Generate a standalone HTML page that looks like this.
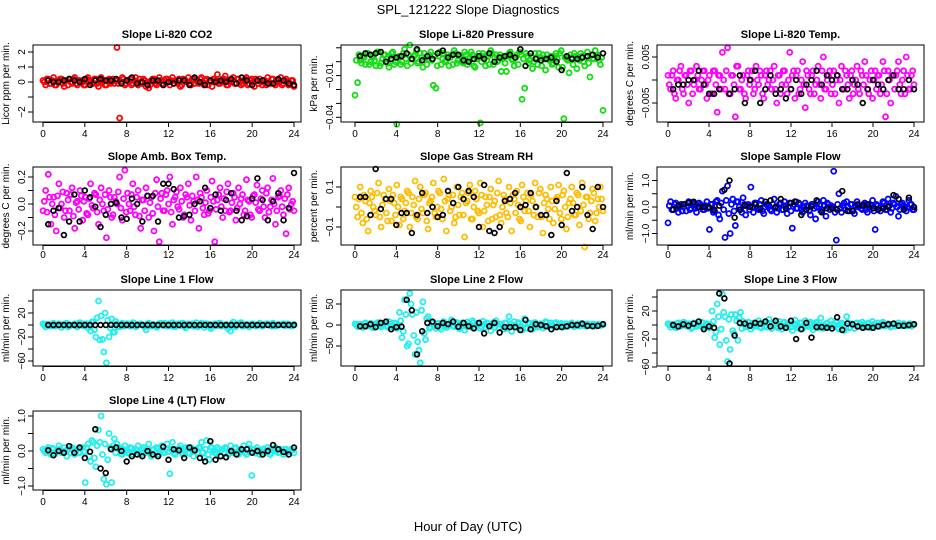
<!DOCTYPE html>
<html><head><meta charset="utf-8"><style>
html,body{margin:0;padding:0;background:#fff;}
svg{display:block;font-family:"Liberation Sans",Arial,sans-serif;}
</style></head><body>
<svg id="chart" width="936" height="540" viewBox="0 0 936 540">
<text x="468" y="14" text-anchor="middle" font-size="13">SPL_121222  Slope Diagnostics</text>
<text x="468" y="531" text-anchor="middle" font-size="13">Hour of Day (UTC)</text>
</svg>
<script>
const xTicks=[0,4,8,12,16,20,24];
const xTickLabels=['0','4','8','12','16','20','24'];

const co2Color=[0.1,-0.2,0.2,-0.1,0.3,-0.2,0.1,0.2,-0.3,0.1,0.2,-0.1,0.3,-0.2,0.1,0.0,-0.2,0.3,0.1,-0.1,0.2,-0.3,0.3,0.1,-0.2,0.2,0.0,-0.1,2.3,-2.4,0.3,-0.2,0.1,0.2,-0.1,0.3,-0.2,0.0,0.2,-0.3,-0.4,0.1,0.2,-0.2,0.3,-0.1,0.1,0.2,-0.2,0.3,0.1,-0.1,-0.3,0.2,0.1,0.3,-0.2,0.2,0.1,-0.1,0.3,-0.2,0.2,0.1,-0.3,0.2,0.5,-0.1,0.2,0.4,-0.2,0.1,0.3,-0.1,0.2,-0.2,0.1,0.3,-0.1,0.2,-0.3,0.1,0.2,-0.2,0.1,0.3,-0.1,0.2,-0.2,0.1,0.3,-0.1,0.2,-0.2,0.1,-0.3];
const co2Color2=[0.0,0.2,-0.1,0.1,-0.2,0.0,0.2,-0.1,0.1,-0.2,0.0,0.2,-0.1,0.1,0.0,-0.2,0.2,0.0,-0.1,0.2,-0.1,0.1,0.0,-0.2,0.1,-0.1,0.2,0.1,-0.1,0.0,0.2,-0.1,0.0,-0.2,0.1,0.0,0.2,-0.1,0.1,0.0,-0.2,0.2,-0.1,0.0,0.1,-0.2,0.2,0.0,0.1,-0.1,0.0,0.2,-0.2,0.1,0.0,-0.1,0.2,-0.1,0.0,0.2,-0.1,0.1,-0.2,0.0,0.2,0.1,-0.1,0.0,0.2,-0.2,0.1,0.0,-0.1,0.2,0.0,-0.1,0.2,-0.2,0.1,0.0,0.2,-0.1,0.0,0.1,-0.2,0.0,0.2,-0.1,0.1,0.0,-0.2,0.1,0.0,-0.1,0.1,-0.2];
const co2Black=[0.1,0,0,0.1,0.2,0.1,0,0.2,-0.2,0.1,0.2,0.1,0.1,0.2,-0.1,0.1,0.3,-0.1,0,-0.2,0.1,0.1,-0.2,0,-0.1,0.1,0.1,-0.2,0.3,0,-0.2,0.1,0,0.1,0,0.2,-0.1,0.3,0.1,-0.2,0.1,0.1,-0.1,-0.1,0.2,0.1,-0.1,-0.2];

const presColor=[-0.024,-0.015,0.001,0.004,-0.002,0.006,0.0,0.003,-0.003,0.007,-0.001,0.005,0.002,-0.004,0.006,-0.002,-0.045,0.004,0.0,0.009,-0.003,0.012,0.002,0.005,-0.001,0.006,-0.004,0.003,0.002,0.007,-0.017,-0.019,0.004,-0.002,0.006,0.001,-0.003,0.005,0.008,-0.001,0.004,0.0,0.007,-0.002,0.003,0.005,-0.004,0.002,-0.044,0.006,-0.003,0.004,0.008,-0.002,0.005,0.001,-0.007,0.003,-0.007,0.006,0.002,-0.003,0.005,0.007,-0.027,-0.019,0.004,0.001,-0.005,0.006,-0.002,0.003,0.005,-0.006,0.002,0.004,-0.001,0.006,-0.004,0.008,-0.041,0.002,-0.008,0.003,0.006,-0.005,0.001,0.004,-0.003,0.007,-0.011,0.002,0.008,0.005,-0.002,-0.035];
const presColor2=[0.001,0.005,-0.001,0.003,0.006,-0.002,0.004,0.001,0.007,-0.003,0.002,0.005,-0.001,0.004,0.007,0.0,0.003,-0.002,0.006,0.002,0.005,-0.001,0.004,0.008,0.0,0.003,0.006,-0.002,0.005,0.001,0.004,-0.003,0.007,0.002,0.0,0.005,0.003,-0.002,0.006,0.001,0.004,-0.001,0.005,0.002,0.007,-0.003,0.003,0.006,0.0,0.004,0.001,-0.002,0.006,0.003,0.0,0.005,0.002,-0.001,0.004,0.007,0.001,0.003,-0.002,0.005,0.002,0.006,-0.001,0.004,0.0,0.003,0.006,-0.003,0.002,0.005,0.001,-0.002,0.004,0.002,0.006,-0.004,0.003,0.001,0.005,-0.002,0.004,0.002,0.006,0.0,0.003,-0.001,0.005,0.002,0.004,0.001,0.003,0.002];
const presBlack=[0.004,0.006,0.005,0.006,0.007,0.0,0.002,0.003,0.004,0.006,0.002,0.009,0.001,0.004,0.002,0.006,0.008,0.003,0.005,0.005,0.001,0.0,0.002,0.004,0.002,0.006,0.0,0.003,0.004,0.005,0.003,0.009,-0.003,0.006,0.002,0.001,0.002,0.003,0.0,-0.006,0.004,0.002,0.002,0.003,0.004,0.005,0.003,0.006];

const tempColor=[0.001,-0.002,0.002,-0.004,0.0,0.003,-0.003,0.001,-0.005,0.002,-0.001,0.003,-0.002,0.0,0.002,-0.004,0.001,-0.003,0.002,-0.007,0.001,0.006,-0.002,0.007,-0.003,0.001,-0.008,0.003,-0.002,0.001,-0.004,0.002,0.0,-0.003,0.003,-0.001,0.001,-0.004,0.002,0.0,-0.002,0.003,-0.005,0.001,-0.001,0.002,-0.003,0.006,0.001,-0.004,0.002,-0.002,0.004,-0.006,0.001,-0.003,0.002,-0.001,0.003,-0.004,0.005,-0.002,0.001,-0.003,0.002,0.0,-0.005,0.003,-0.002,0.001,-0.004,0.002,-0.001,0.003,-0.003,0.001,0.004,-0.002,0.0,-0.004,0.002,0.001,-0.003,0.004,-0.008,0.002,-0.005,-0.011,0.001,0.004,-0.003,0.002,0.005,-0.002,0.001,-0.001];
const tempColor2=[-0.001,0.001,-0.003,0.0,0.002,-0.002,0.001,-0.001,0.002,-0.003,0.0,0.001,-0.002,0.002,-0.001,0.0,-0.003,0.002,-0.001,0.001,-0.002,0.0,0.002,-0.003,0.001,-0.001,0.003,-0.002,0.0,-0.003,0.001,-0.001,0.002,-0.002,0.0,0.002,-0.003,0.001,-0.001,0.002,0.0,-0.002,0.001,-0.003,0.002,-0.001,0.0,-0.002,0.002,0.001,-0.003,0.0,-0.001,0.002,-0.002,0.001,-0.003,0.0,-0.001,0.002,-0.002,0.0,0.002,-0.001,-0.003,0.001,0.0,-0.002,0.002,-0.001,0.001,-0.003,0.0,-0.002,0.002,-0.001,0.001,-0.003,0.002,0.0,-0.002,0.001,-0.001,0.002,-0.003,0.0,0.001,-0.002,0.002,-0.001,0.0,-0.003,0.001,-0.002,0.002,0.0];
const tempBlack=[-0.002,-0.001,-0.001,0.0,0.0,0.002,-0.001,-0.003,-0.003,-0.002,-0.011,-0.003,-0.002,0.001,-0.005,0.0,0.002,-0.005,-0.002,0.001,-0.003,-0.002,-0.004,-0.002,0.0,-0.003,-0.001,0.0,0.002,-0.001,0.001,0.0,0.001,-0.002,-0.002,0.0,-0.001,-0.005,-0.002,0.0,-0.001,-0.002,0.0,0.001,-0.002,-0.002,0.0,-0.002];

const ambColor=[-0.05,0.1,0.22,-0.15,0.05,-0.2,0.15,0.0,-0.1,0.08,-0.05,0.12,-0.18,0.02,0.1,-0.12,0.05,-0.08,0.15,-0.03,0.07,-0.15,0.12,-0.05,-0.25,0.1,-0.1,0.05,0.0,0.2,-0.12,0.25,0.08,-0.05,0.15,-0.08,0.1,-0.18,0.03,0.12,-0.1,0.05,-0.2,0.18,-0.28,0.08,-0.05,0.1,0.2,-0.15,0.05,-0.02,0.12,-0.1,0.07,0.15,-0.12,0.02,0.2,-0.18,0.05,-0.08,0.1,-0.05,0.17,-0.28,0.03,0.12,-0.1,-0.05,0.15,-0.05,0.08,-0.12,0.12,0.04,-0.08,0.18,0.02,-0.1,0.07,0.14,-0.05,0.1,-0.1,0.12,-0.02,0.19,-0.15,0.05,0.1,-0.08,-0.22,0.12,0.0,-0.05];
const ambColor2=[0.02,-0.06,0.05,0.0,-0.08,0.06,-0.03,0.09,-0.05,0.03,0.07,-0.09,0.01,-0.04,0.06,0.02,-0.07,0.04,-0.01,0.08,-0.06,0.03,0.0,0.07,-0.04,0.05,-0.08,0.02,0.09,-0.03,0.04,-0.06,0.0,0.07,-0.02,0.05,-0.09,0.03,-0.05,0.06,0.01,-0.07,0.08,-0.02,0.04,-0.05,0.07,0.0,-0.06,0.03,0.09,-0.04,0.02,-0.08,0.05,-0.01,0.06,-0.05,0.03,0.08,-0.03,0.01,-0.07,0.05,0.02,-0.04,0.07,-0.02,0.04,0.09,-0.06,0.01,0.05,-0.03,0.0,0.07,-0.05,0.03,-0.08,0.06,0.01,-0.04,0.04,-0.02,0.08,-0.06,0.03,0.0,-0.05,0.06,-0.02,0.04,0.07,-0.04,0.02,-0.03];
const ambBlack=[-0.15,-0.05,-0.03,-0.23,-0.13,0.07,-0.13,0.1,0.05,-0.02,-0.17,-0.08,0.0,0.01,-0.1,-0.11,0.04,0.0,-0.13,0.06,0.06,-0.13,0.15,0.15,0.11,-0.1,-0.09,-0.08,0.0,0.02,0.12,-0.03,0.07,-0.05,0.03,0.08,-0.05,-0.12,-0.09,0.04,0.19,0.03,-0.12,0.02,0.08,-0.12,-0.03,0.23];

const rhColor=[0.05,-0.05,0.1,-0.08,0.03,-0.12,0.08,0.0,-0.04,0.12,-0.1,0.06,-0.03,0.09,-0.07,0.02,0.11,-0.09,0.04,-0.02,0.08,-0.1,0.05,0.13,-0.06,0.1,-0.03,0.07,-0.11,0.03,0.12,-0.05,0.08,-0.01,0.14,-0.12,0.06,0.0,-0.08,0.1,-0.04,0.07,-0.15,0.03,0.11,-0.06,0.08,-0.02,0.12,-0.1,0.05,-0.07,0.09,0.01,-0.05,0.13,-0.08,0.06,-0.03,0.1,-0.12,0.04,0.08,-0.06,0.11,-0.02,0.07,-0.1,0.03,0.12,-0.05,0.09,-0.13,0.06,-0.01,0.1,-0.08,0.04,0.11,-0.06,0.08,-0.11,0.02,0.1,-0.04,0.07,-0.09,0.12,-0.2,0.05,-0.03,0.09,-0.07,0.04,0.1,-0.02];
const rhColor2=[0.0,0.04,-0.03,0.06,-0.06,0.02,0.05,-0.02,0.07,-0.05,0.01,0.04,-0.07,0.03,0.06,-0.04,0.0,0.05,-0.06,0.02,0.07,-0.03,0.01,-0.05,0.04,-0.01,0.06,-0.07,0.02,0.05,-0.03,0.0,0.07,-0.06,0.03,0.04,-0.02,0.06,-0.05,0.01,0.05,-0.04,0.02,0.07,-0.06,0.0,0.04,-0.03,0.06,-0.02,0.01,0.05,-0.06,0.03,0.07,-0.04,0.0,0.04,-0.05,0.02,0.06,-0.03,0.01,-0.07,0.05,0.03,-0.02,0.06,-0.04,0.0,0.07,-0.05,0.02,0.04,-0.06,0.03,-0.01,0.05,-0.03,0.06,0.0,-0.05,0.04,0.02,-0.04,0.06,-0.02,0.01,0.05,-0.06,0.03,0.07,-0.03,0.0,0.04,-0.04];
const rhBlack=[0.05,0.05,-0.04,0.19,-0.01,0.04,0.04,-0.09,-0.03,-0.03,-0.13,-0.04,0.07,-0.03,0.0,-0.05,-0.04,0.08,0.02,0.1,0.04,0.08,0.05,-0.1,0.11,-0.12,-0.13,-0.1,0.03,0.04,0.07,0.0,0.01,0.07,0.0,-0.04,-0.04,-0.14,0.03,-0.09,0.17,-0.02,0.0,0.1,-0.04,-0.11,0.1,0.0];

const sampColor=[-0.6,0.2,-0.1,0.15,-0.2,0.1,0.0,-0.15,0.2,-0.05,0.1,-0.2,0.15,0.05,-0.1,0.2,-0.85,0.1,-0.15,0.25,-0.45,0.6,-1.15,0.8,-1.0,0.3,-0.7,0.2,-0.1,0.35,-0.3,0.1,0.75,-0.2,0.15,-0.1,0.25,-0.25,0.1,0.05,-0.15,0.3,-0.2,0.1,-0.1,0.2,-0.25,0.15,-0.8,0.2,-0.05,0.1,-0.2,0.15,0.0,-0.3,0.1,-0.45,0.2,-0.15,0.25,-0.35,0.1,0.05,1.35,-1.25,0.5,-0.2,0.15,0.2,-0.15,0.1,-0.25,0.2,0.05,-0.1,0.15,-0.2,0.1,0.25,-0.85,0.05,-0.15,0.2,-0.1,0.3,-0.2,0.15,0.4,-0.35,0.1,0.05,-0.15,0.25,0.1,-0.1];
const sampColor2=[0.05,-0.1,0.1,-0.05,0.0,-0.15,0.1,0.05,-0.1,0.15,-0.05,0.0,0.1,-0.1,0.05,-0.05,0.1,-0.2,0.2,-0.3,0.15,-0.1,0.25,-0.25,0.1,-0.15,0.2,0.0,-0.2,0.1,0.05,-0.1,0.0,0.15,-0.05,0.1,-0.15,0.0,0.05,-0.1,0.1,0.0,-0.05,0.15,-0.1,0.05,0.0,-0.15,0.1,-0.05,0.15,-0.1,0.0,0.05,-0.15,0.1,-0.05,0.0,0.1,-0.1,0.05,0.15,-0.1,0.0,-0.2,0.1,-0.05,0.05,-0.1,0.0,0.1,-0.15,0.05,0.0,-0.05,0.1,-0.1,0.0,0.05,-0.15,0.1,-0.05,0.0,0.15,-0.1,0.05,-0.05,0.1,0.0,-0.1,0.15,-0.05,0.0,0.1,-0.1,0.05];
const sampBlack=[-0.1,0.05,0.1,0.15,0.2,0.0,0.0,0.0,-0.1,0.05,0.65,1.0,-0.4,-0.1,0.05,0.0,0.1,-0.05,0.2,0.25,0.0,0.3,-0.05,0.15,0.2,-0.3,-0.1,0.03,0.25,-0.2,-0.05,-0.05,-0.1,0.6,-0.15,-0.15,0.1,0.05,0.1,-0.05,-0.1,-0.05,0.0,0.45,0.3,-0.1,0.35,0.0];

const l1Color=[2,-3,1,-2,3,-1,2,-4,1,3,-2,0,2,-3,4,-1,2,-5,-10,5,-20,40,15,-45,-63,-20,10,-12,2,-3,3,-1,2,-2,4,-3,1,2,-1,-8,3,-2,1,-4,2,0,3,-2,1,4,-3,2,-1,3,-5,2,1,-2,4,-1,3,-4,2,1,-3,2,-1,3,0,-2,-6,-10,5,-3,2,4,-2,1,-3,2,0,-1,3,-2,1,2,-1,3,-2,1,0,2,-1,1,-2,1];
const l1Color2=[0,1,-1,2,-2,0,1,-1,2,-3,0,1,-2,3,0,-1,2,-2,5,-8,12,-25,-24,20,8,-5,-12,6,-3,1,-2,2,0,-1,3,-2,1,0,-3,2,-1,1,0,-2,3,-1,0,2,-2,1,-1,0,3,-2,1,-1,2,0,-3,1,0,2,-2,-6,1,-1,3,-2,0,1,-2,2,-1,0,3,-2,1,0,-1,2,-2,1,0,-1,2,0,-2,1,-1,0,1,-1,2,0,-1,0];
const l1Black=[0,0,0,0,0,0,0,0,0,0,0,0,0,0,0,0,0,0,0,0,0,0,0,0,0,0,0,0,0,0,0,0,0,0,0,0,0,0,0,0,0,0,0,0,0,0,0,0];

const l2Color=[3,-4,2,-6,5,-3,4,-7,2,6,-5,3,-2,8,-4,5,-8,30,-30,60,-50,75,25,-70,-40,-90,55,-35,20,-5,6,-8,4,-10,8,-6,3,12,-4,6,-9,5,-12,7,-3,10,-6,4,-8,9,-5,3,-14,6,10,-7,2,-10,5,20,-15,8,-6,3,-12,15,-8,4,-10,6,-5,3,-7,8,-4,5,-3,6,-2,4,-5,3,-1,5,-4,2,-3,4,-2,3,-1,2,-3,2,-1,1];
const l2Color2=[0,2,-2,3,-3,1,-4,2,5,-2,0,3,-5,2,-1,4,-3,10,-15,25,-45,50,-25,30,-60,35,-20,15,-8,4,-2,3,-5,2,0,-4,5,-2,3,-6,1,4,-3,2,-5,6,-1,3,-4,2,5,-3,0,-6,4,2,-3,5,-8,3,0,-5,6,-2,4,-7,2,-3,5,0,-4,3,-2,6,-3,1,4,-5,2,-1,3,-3,2,0,-2,3,-1,2,-3,1,0,2,-2,1,0,-1];
const l2Black=[-3,-3,2,-5,5,8,-10,-5,-4,60,35,-70,-15,5,8,-3,5,2,8,-4,5,-3,-8,5,-20,-3,5,-18,-5,-5,-5,-12,12,-10,2,0,-3,-10,-5,-5,-3,0,0,3,-2,-3,-2,2];

const l3Color=[2,-3,1,-4,3,-2,4,-1,2,-5,3,-2,1,4,-3,2,-4,20,-18,30,-28,44,12,-52,-35,-8,15,-22,18,5,-3,4,-6,3,-2,6,-4,2,-3,8,-5,3,-2,5,-6,4,-3,2,-8,7,-4,3,-5,6,-2,4,-7,3,-4,10,-5,2,-3,6,-1,4,-6,3,-8,12,-4,2,-5,3,-2,4,-3,2,-4,5,-1,3,-2,4,-1,2,-3,1,-2,3,-1,2,-1,1,-2,1];
const l3Color2=[0,1,-2,2,-1,0,3,-2,1,-3,2,0,-1,3,-2,1,0,5,-10,12,-6,18,-22,8,15,-12,6,10,-5,2,-1,3,-2,0,2,-3,1,-1,3,-2,0,2,-4,1,3,-1,0,-3,2,1,-2,3,-1,0,2,-3,1,4,-2,0,-1,3,-2,1,0,-4,2,1,-1,3,-3,0,2,-2,1,0,-1,3,-2,1,0,-2,2,-1,0,1,-2,2,0,-1,1,0,-1,2,0,-1];
const l3Black=[0,-2,1,-1,2,5,-6,-2,-4,45,38,-55,-15,3,2,-1,3,2,5,-2,6,-2,-4,6,-20,-6,3,-18,-3,-3,-4,-5,11,-7,2,1,-2,-4,-3,-4,-2,0,1,2,-1,-1,0,1];

const l4Color=[0.05,-0.05,0.1,-0.1,0.05,0,0.15,-0.05,0.1,-0.15,0.05,0.1,-0.1,0.05,-0.05,0.1,-0.9,0.2,-0.3,0.25,-0.45,0.6,1.0,-0.8,-0.95,0.5,-0.9,0.35,0.2,0.1,-0.1,0.15,-0.05,0.1,-0.1,0.05,0.15,-0.1,0.1,-0.05,0.2,-0.15,0.05,0.1,-0.1,0.15,-0.05,0.2,-0.65,0.25,-0.1,0.05,0.15,-0.1,0.1,-0.05,0.1,-0.15,0.05,0.1,0.25,-0.2,0.3,-0.25,0.1,-0.05,0.1,-0.15,0.05,0.1,-0.1,0.15,-0.05,0.1,-0.1,0.05,0.15,-0.1,0.2,-0.7,0.05,0.1,-0.1,0.05,-0.05,0.1,-0.1,0.05,0.1,-0.05,0.05,-0.1,0.05,0,0.05,-0.05];
const l4Color2=[0.0,0.05,-0.05,0.08,-0.08,0.02,0.05,-0.03,0.0,0.06,-0.06,0.03,0.0,-0.05,0.07,-0.02,0.1,-0.15,0.3,-0.2,0.15,0.25,-0.1,0.2,-0.25,0.1,0.15,-0.05,0.1,-0.08,0.05,0.0,-0.06,0.08,-0.03,0.02,-0.07,0.05,0.0,0.06,-0.05,0.03,-0.08,0.06,0.0,-0.04,0.07,-0.02,0.05,-0.06,0.02,0.08,-0.05,0.0,0.06,-0.07,0.03,0.0,-0.05,0.08,-0.03,0.05,-0.1,0.1,0.0,-0.06,0.05,0.02,-0.05,0.07,0.0,-0.04,0.06,-0.06,0.03,0.0,-0.05,0.08,-0.02,0.05,-0.06,0.02,0.0,0.06,-0.04,0.03,-0.05,0.0,0.05,-0.03,0.02,0.05,-0.04,0.0,0.03,-0.02];
const l4Black=[0.02,-0.12,0,-0.05,0.14,-0.05,0.1,-0.2,-0.02,0.62,-0.5,-0.63,0.05,0.1,0,-0.3,-0.15,-0.1,-0.15,0,-0.1,-0.15,0.12,-0.25,0.05,0.02,-0.2,0.1,0.02,-0.2,-0.3,0.28,-0.25,-0.15,-0.18,0,-0.1,0.05,0.05,-0.05,0,-0.1,0,0.17,0.05,-0.03,-0.1,0.1];

const NS='http://www.w3.org/2000/svg';
const svg=document.getElementById('chart');
const cols=[{l:33,r:301,x0:43,x24:294},{l:341,r:612,x0:355,x24:603},{l:657,r:924,x0:668,x24:914}];
const rows=[{t:45,b:122,lab:137},{t:167,b:245,lab:258},{t:290,b:366,lab:381},{t:411,b:490,lab:505}];
const panels=[
 {id:'co2',title:'Slope Li-820 CO2',yl:'Licor ppm per min.',c:0,r:0,y0:82,yRef:2,yRefPx:52,col:'#ff0000',cds:[co2Color,co2Color2],bd:co2Black,ticks:[-2,-1,0,1,2],tl:['\u22122','','0','1','2']},
 {id:'pressure',title:'Slope Li-820 Pressure',yl:'kPa per min.',c:1,r:0,y0:61.7,yRef:0.01,yRefPx:47.8,col:'#11dd11',cds:[presColor,presColor2],bd:presBlack,ticks:[-0.04,-0.03,-0.02,-0.01,0,0.01],tl:['\u22120.04','','','\u22120.01','','']},
 {id:'temp',title:'Slope Li-820 Temp.',yl:'degrees C per min.',c:2,r:0,y0:80,yRef:0.005,yRefPx:57,col:'#ff00ff',cds:[tempColor,tempColor2],bd:tempBlack,ticks:[-0.005,0,0.005],tl:['\u22120.005','','0.005']},
 {id:'amb-box-temp',title:'Slope Amb. Box Temp.',yl:'degrees C per min.',c:0,r:1,y0:204,yRef:0.2,yRefPx:177,col:'#ff00ff',cds:[ambColor,ambColor2],bd:ambBlack,ticks:[-0.2,-0.1,0,0.1,0.2],tl:['\u22120.2','','0.0','','0.2']},
 {id:'gas-rh',title:'Slope Gas Stream RH',yl:'percent per min.',c:1,r:1,y0:207,yRef:0.1,yRefPx:187,col:'#ffbb00',cds:[rhColor,rhColor2],bd:rhBlack,ticks:[-0.1,0,0.1],tl:['\u22120.1','','0.1']},
 {id:'sample-flow',title:'Slope Sample Flow',yl:'ml/min per min.',c:2,r:1,y0:207,yRef:1,yRefPx:180.5,col:'#0000ff',cds:[sampColor,sampColor2],bd:sampBlack,ticks:[-1,-0.5,0,0.5,1],tl:['\u22121.0','','0.0','','1.0']},
 {id:'line1-flow',title:'Slope Line 1 Flow',yl:'ml/min per min.',c:0,r:2,y0:325,yRef:20,yRefPx:313,col:'#22eeee',cds:[l1Color,l1Color2],bd:l1Black,ticks:[-60,-40,-20,0,20,40],tl:['\u221260','','\u221220','','20','']},
 {id:'line2-flow',title:'Slope Line 2 Flow',yl:'ml/min per min.',c:1,r:2,y0:325,yRef:50,yRefPx:304,col:'#22eeee',cds:[l2Color,l2Color2],bd:l2Black,ticks:[-50,0,50],tl:['\u221250','0','50']},
 {id:'line3-flow',title:'Slope Line 3 Flow',yl:'ml/min per min.',c:2,r:2,y0:325,yRef:20,yRefPx:311,col:'#22eeee',cds:[l3Color,l3Color2],bd:l3Black,ticks:[-60,-40,-20,0,20,40],tl:['\u221260','','\u221220','','20','']},
 {id:'line4-flow',title:'Slope Line 4 (LT) Flow',yl:'ml/min per min.',c:0,r:3,y0:451,yRef:1,yRefPx:416,col:'#22eeee',cds:[l4Color,l4Color2],bd:l4Black,ticks:[-1,-0.5,0,0.5,1],tl:['\u22121.0','','0.0','','1.0']}
];
function mk(tag,attrs,parent){const e=document.createElementNS(NS,tag);for(const k in attrs)e.setAttribute(k,attrs[k]);(parent||svg).appendChild(e);return e;}
panels.forEach(p=>{
 const C=cols[p.c],R=rows[p.r];
 const g=mk('g',{});
 
 
 const xS=h=>C.x0+(C.x24-C.x0)*h/24;
 const yS=v=>p.y0-(p.y0-p.yRefPx)*v/p.yRef;
 const inside=v=>{const y=yS(v);return y>=R.t-3&&y<=R.b+3;};
 const t=mk('text',{x:(C.l+C.r)/2,y:R.t-7,'text-anchor':'middle','font-size':11,'font-weight':'bold'},g);t.textContent=p.title;
 
 
 const yl=mk('text',{x:0,y:0,'text-anchor':'middle','font-size':10,transform:`translate(${C.l-24},${(R.t+R.b)/2}) rotate(-90)`},g);yl.textContent=p.yl;
 
 
 p.cds.forEach((arr,k)=>{
  const n=arr.length;
  arr.forEach((v,i)=>{if(!inside(v))return;const h=(i+(k?0.5:0))*24/(n-1);if(h>24)return;
   const c=mk('circle',{cx:xS(h),cy:yS(v),r:2.5,fill:'none',stroke:p.col,'stroke-width':1.8},g);
   
   });
 });
 const m=p.bd.length;
 p.bd.forEach((v,i)=>{if(!inside(v))return;const h=0.5+i*23.5/(m-1);
  const c=mk('circle',{cx:xS(h),cy:yS(v),r:2.4,fill:'none',stroke:'#000','stroke-width':1.7},g);
  
  });
 const box=mk('rect',{x:C.l,y:R.t,width:C.r-C.l,height:R.b-R.t,fill:'none',stroke:'#000','stroke-width':1},g);
 
 
 xTicks.forEach((h,i)=>{const x=xS(h);mk('line',{x1:x,x2:x,y1:R.b,y2:R.b+5,stroke:'#000'},g);
  const tx=mk('text',{x:x,y:R.lab,'text-anchor':'middle','font-size':10},g);tx.textContent=xTickLabels[i];
  
  });
 mk('line',{x1:xS(0),x2:xS(24),y1:R.b+0.5,y2:R.b+0.5,stroke:'#000'},g);
 p.ticks.forEach((v,i)=>{const y=yS(v);if(y<R.t-1||y>R.b+1)return;mk('line',{x1:C.l-5,x2:C.l,y1:y,y2:y,stroke:'#000'},g);
  if(p.tl[i]){const ty=mk('text',{x:0,y:0,'text-anchor':'middle','font-size':10,transform:`translate(${C.l-8},${y}) rotate(-90)`},g);ty.textContent=p.tl[i];
  
  }});
});
</script>
</body></html>
